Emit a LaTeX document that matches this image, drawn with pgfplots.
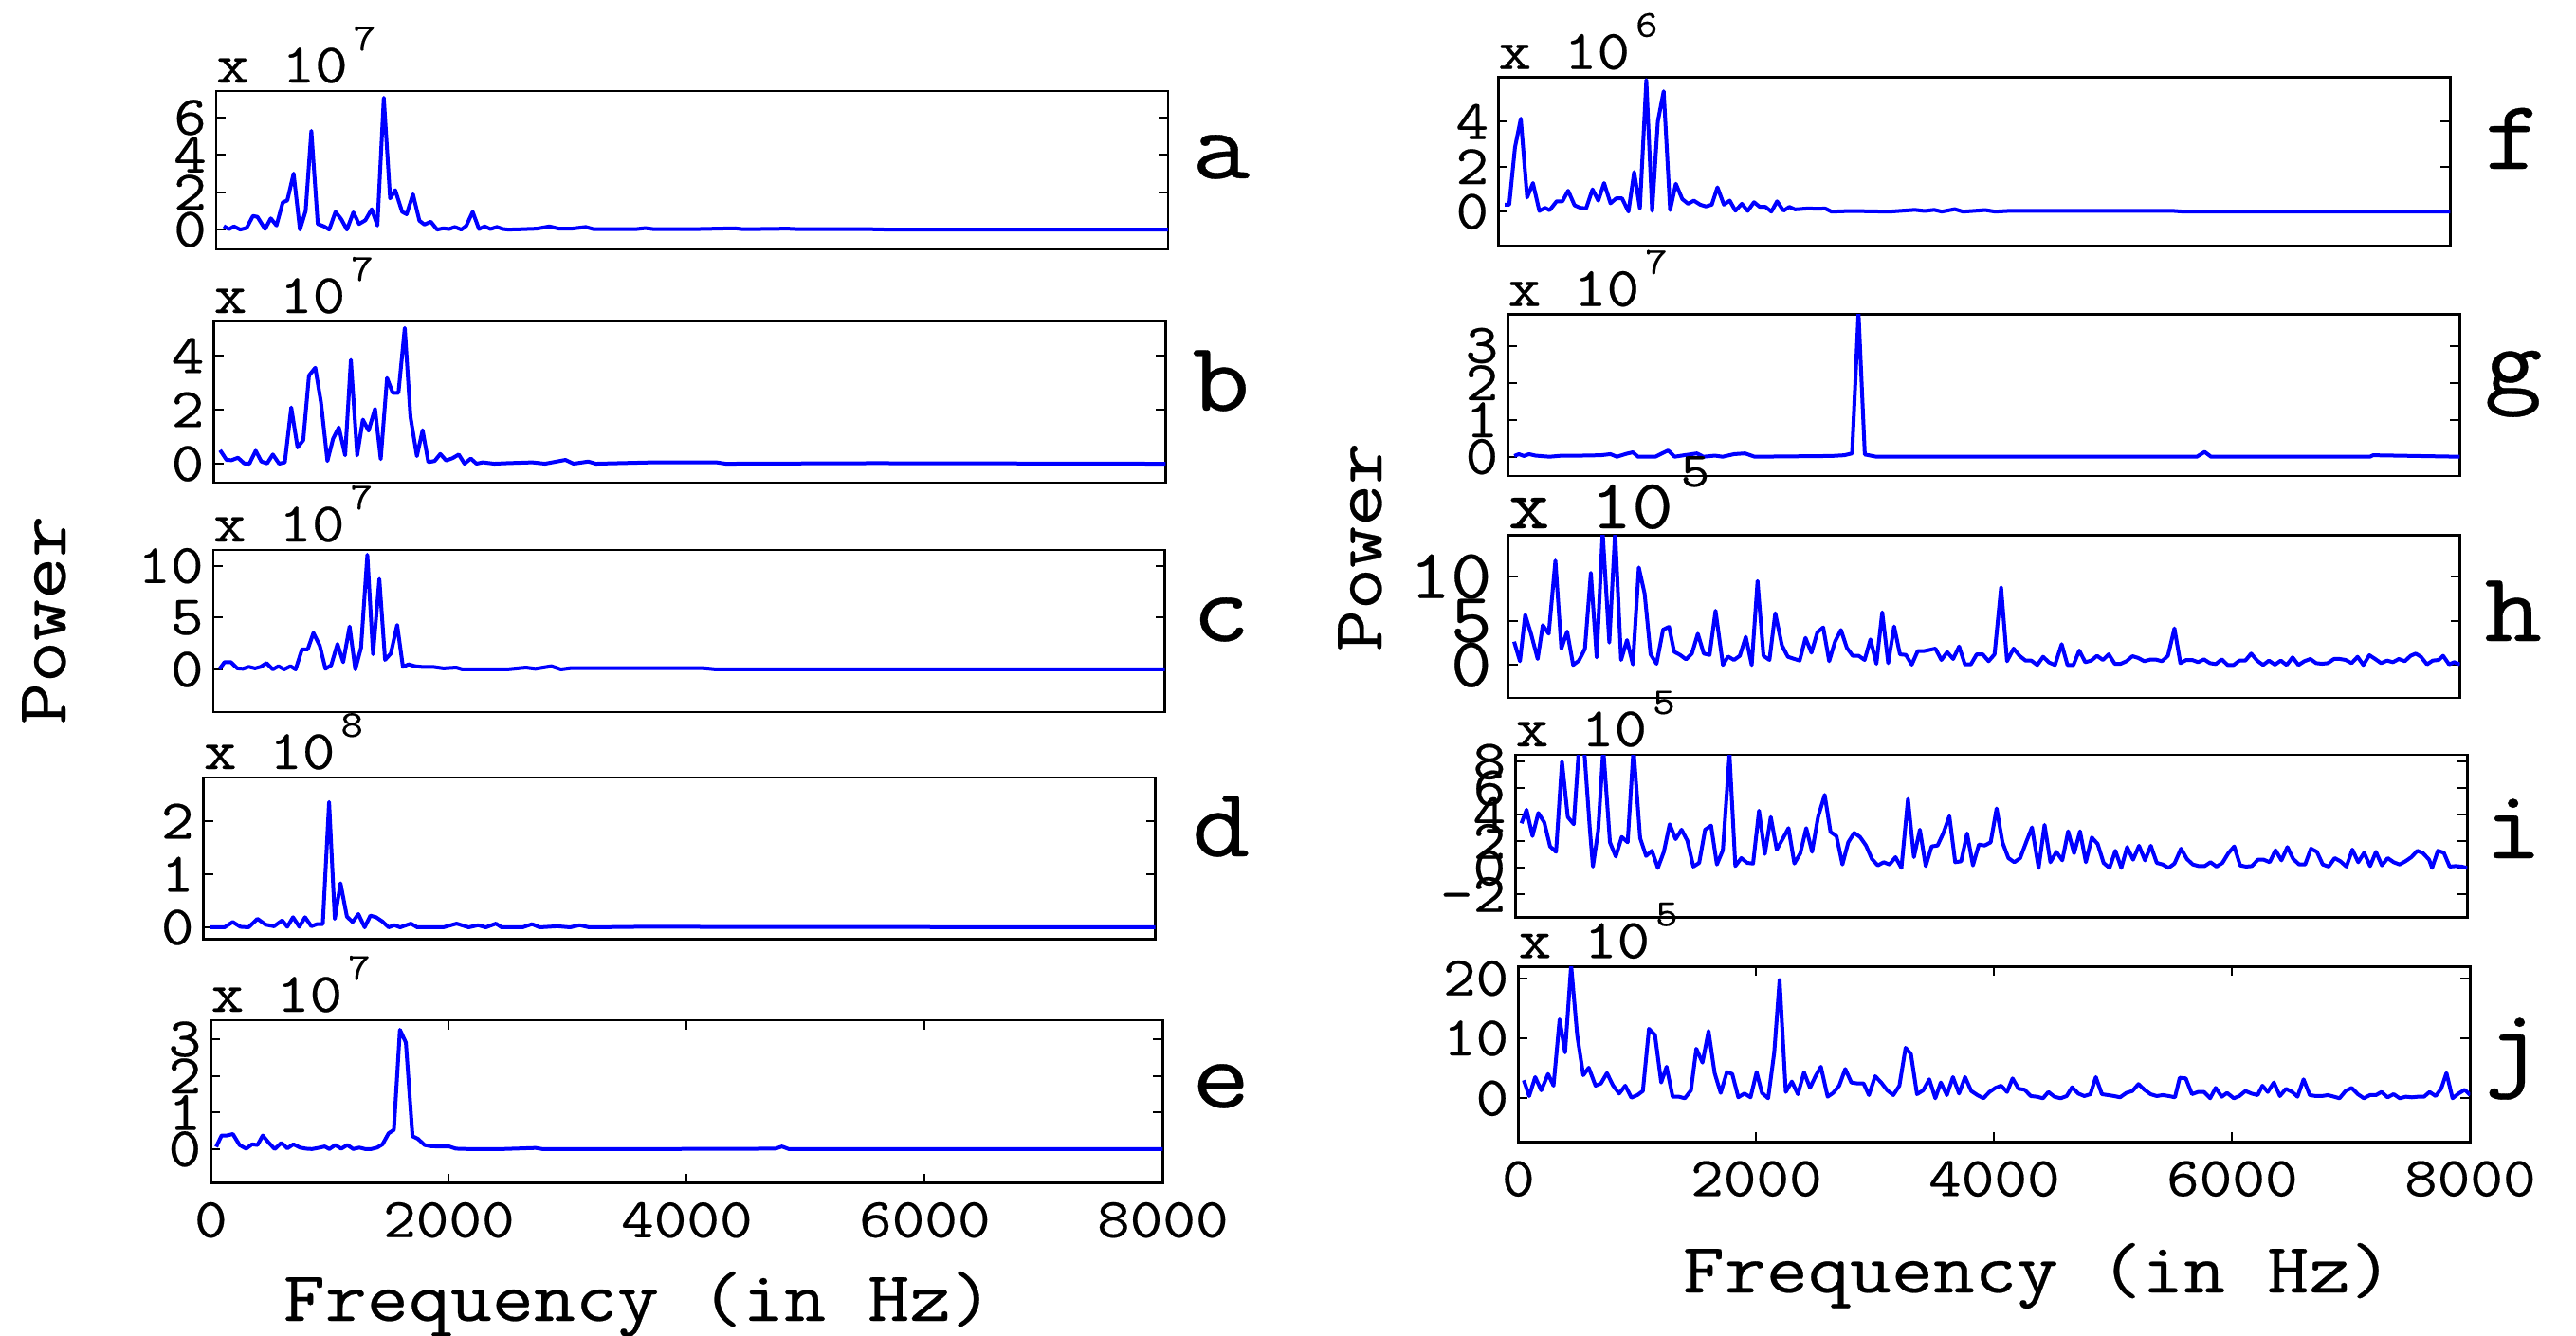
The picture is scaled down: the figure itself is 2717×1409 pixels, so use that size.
\documentclass[border=0pt]{standalone}
\usepackage{fontspec}
% typewriter face, widened to a 0.6em advance and slightly thickened
\setmainfont{Latin Modern Mono}[FakeStretch=1.14, FakeBold=0.35]
\usepackage{pgfplots}
\pgfplotsset{compat=1.18}

% font sizes (1bp = one pixel of the final picture)
\newcommand{\tickfont}{\fontsize{59bp}{59bp}\selectfont}
\newcommand{\bigtickfont}{\fontsize{74bp}{74bp}\selectfont}
\newcommand{\labfont}{\fontsize{75bp}{75bp}\selectfont}
\newcommand{\panfont}{\fontsize{104bp}{104bp}\selectfont}
\newcommand{\xten}[1]{x 10\hspace{6bp}\raisebox{34bp}{\fontsize{40bp}{40bp}\selectfont #1}}
\newcommand{\xtenbig}[1]{x 10\hspace{8bp}\raisebox{44bp}{\fontsize{52bp}{52bp}\selectfont #1}}

\pgfplotsset{
  spec/.style={
    scale only axis, width=1004bp,
    xmin=0, xmax=8000,
    axis line style={line width=2.5bp},
    every tick/.style={black, line width=2bp},
    major tick length=10bp,
    tick align=inside,
    xtick=\empty,
    tick label style={font=\tickfont},
    yticklabel style={inner sep=0pt, xshift=-10bp},
    xticklabel style={inner sep=0pt, yshift=-20bp},
  },
  trace/.style={color=blue, line width=4bp, line join=round, mark=none},
  freqticks/.style={xtick={0,2000,4000,6000,8000}, xticklabels={0,2000,4000,6000,8000}},
}

\begin{document}
\begin{tikzpicture}
\path[use as bounding box] (0bp,0bp) rectangle (2717bp,-1409bp);

% ---------------- left column ----------------
% a
\begin{axis}[spec, at={(228bp,-263bp)}, anchor=south west, height=167bp,
  ymin=-1.06, ymax=7.42, ytick={0,2,4,6}, yticklabels={0,2,4,6}]
\addplot[trace] coordinates {(64,0.19)(107,0.02)(149,0.17)(203,0.0)(256,0.09)(309,0.73)(347,0.68)(411,0.03)(459,0.6)(507,0.22)(560,1.46)(598,1.56)(651,3.0)(704,0.0)(752,1.0)(800,5.29)(854,0.3)(907,0.17)(950,0.0)(1003,0.95)(1051,0.56)(1099,0.0)(1153,0.92)(1201,0.3)(1254,0.5)(1307,1.09)(1355,0.22)(1409,7.06)(1462,1.67)(1505,2.11)(1563,0.95)(1601,0.82)(1654,1.89)(1708,0.48)(1750,0.27)(1804,0.42)(1857,0.0)(1910,0.07)(1958,0.03)(2006,0.14)(2060,0.0)(2102,0.2)(2156,0.95)(2209,0.03)(2257,0.17)(2305,0.03)(2359,0.14)(2412,0.03)(2455,0.0)(2561,0.02)(2695,0.05)(2801,0.17)(2881,0.05)(2988,0.05)(3106,0.14)(3175,0.02)(3522,0.02)(3607,0.08)(3682,0.02)(4055,0.03)(4360,0.07)(4429,0.02)(4802,0.05)(4909,0.02)(5443,0.03)(5656,0.0)(8000,0.0)};
\end{axis}
\node[anchor=base west, inner sep=0pt, font=\tickfont] at (228bp,-87bp) {\xten{7}};

% b
\begin{axis}[spec, at={(225.5bp,-509bp)}, anchor=south west, height=170bp,
  ymin=-0.70, ymax=5.26, ytick={0,2,4}, yticklabels={0,2,4}]
\addplot[trace] coordinates {(53,0.5)(107,0.14)(149,0.13)(203,0.22)(256,0.01)(299,0)(352,0.48)(400,0.08)(448,0.01)(496,0.34)(549,0)(597,0.05)(651,2.08)(704,0.6)(752,0.87)(800,3.26)(853,3.55)(901,2.26)(955,0.1)(1003,0.93)(1051,1.34)(1104,0.31)(1152,3.84)(1205,0.31)(1253,1.63)(1301,1.22)(1355,2.03)(1403,0.17)(1456,3.17)(1504,2.62)(1552,2.62)(1605,5.02)(1653,1.73)(1707,0.28)(1755,1.24)(1803,0.06)(1856,0.1)(1904,0.36)(1952,0.12)(2005,0.2)(2059,0.34)(2107,0)(2160,0.19)(2208,0)(2261,0.05)(2357,0)(2464,0.02)(2677,0.05)(2784,0)(2955,0.14)(3024,0)(3147,0.08)(3211,0)(3690,0.05)(4224,0.05)(4304,0)(5546,0.02)(8000,0)};
\end{axis}
\node[anchor=base west, inner sep=0pt, font=\tickfont] at (225.5bp,-330bp) {\xten{7}};

% c
\begin{axis}[spec, at={(224.8bp,-751bp)}, anchor=south west, height=171bp,
  ymin=-4.12, ymax=11.53, ytick={0,5,10}, yticklabels={0,5,10}]
\addplot[trace] coordinates {(53,0.03)(96,0.7)(149,0.7)(203,0.1)(251,0.06)(299,0.25)(352,0.1)(400,0.25)(448,0.61)(501,0)(549,0.31)(597,0)(651,0.31)(693,0)(747,1.93)(795,1.93)(843,3.53)(896,2.3)(944,0.06)(992,0.4)(1045,2.45)(1093,0.7)(1147,4.14)(1195,0)(1243,2.09)(1296,11.07)(1344,1.47)(1397,8.74)(1445,0.92)(1493,1.53)(1547,4.29)(1595,0.25)(1643,0.49)(1696,0.31)(1749,0.25)(1845,0.25)(1936,0.1)(2043,0.18)(2096,0)(2469,0)(2629,0.18)(2709,0.06)(2843,0.31)(2923,0)(3003,0.12)(3616,0.12)(4122,0.12)(4229,0)(8000,0)};
\end{axis}
\node[anchor=base west, inner sep=0pt, font=\tickfont] at (224.8bp,-571bp) {\xten{7}};

% d
\begin{axis}[spec, at={(214.7bp,-990.7bp)}, anchor=south west, height=170.7bp,
  ymin=-0.227, ymax=2.82, ytick={0,1,2}, yticklabels={0,1,2}]
\addplot[trace] coordinates {(59,0)(176,0)(245,0.1)(309,0.01)(378,0)(453,0.16)(522,0.05)(592,0.02)(661,0.13)(704,0.01)(752,0.19)(805,0.01)(853,0.19)(906,0.02)(954,0.06)(1002,0.06)(1055,2.36)(1103,0.16)(1151,0.83)(1205,0.2)(1253,0.1)(1301,0.25)(1354,0)(1402,0.22)(1450,0.19)(1503,0.11)(1556,0)(1604,0.04)(1652,0)(1743,0.07)(1796,0)(2015,0)(2127,0.07)(2228,0)(2308,0.04)(2372,0)(2457,0.07)(2505,0)(2681,0)(2761,0.06)(2825,0)(2974,0.02)(3081,0)(3161,0.04)(3241,0)(3667,0.01)(8000,0)};
\end{axis}
\node[anchor=base west, inner sep=0pt, font=\tickfont] at (214.7bp,-811bp) {\xten{8}};

% e
\begin{axis}[spec, freqticks, at={(222.4bp,-1247.7bp)}, anchor=south west, height=171.7bp,
  ymin=-0.93, ymax=3.52, ytick={0,1,2,3}, yticklabels={0,1,2,3}]
\addplot[trace] coordinates {(45,0.06)(90,0.37)(134,0.37)(185,0.41)(241,0.11)(296,0.01)(347,0.13)(392,0.11)(436,0.37)(487,0.17)(537,0)(593,0.17)(643,0.02)(694,0.13)(750,0.04)(800,0.01)(850,0)(901,0.03)(957,0.07)(996,0)(1046,0.11)(1096,0.01)(1147,0.11)(1197,0)(1247,0.04)(1298,0)(1348,0)(1398,0.04)(1443,0.13)(1494,0.43)(1538,0.52)(1589,3.26)(1639,2.91)(1695,0.35)(1740,0.28)(1796,0.11)(1846,0.08)(1902,0.07)(1952,0.07)(2003,0.07)(2059,0.01)(2170,0)(2450,0)(2730,0.03)(2786,0)(3737,0)(4744,0.01)(4800,0.07)(4856,0)(8000,0)};
\end{axis}
\node[anchor=base west, inner sep=0pt, font=\tickfont] at (222.4bp,-1067bp) {\xten{7}};

% ---------------- right column ----------------
% f
\begin{axis}[spec, at={(1580.3bp,-259.3bp)}, anchor=south west, height=177.6bp,
  ymin=-1.52, ymax=5.96, ytick={0,2,4}, yticklabels={0,2,4}]
\addplot[trace] coordinates {(54,0.31)(92,0.31)(140,2.85)(189,4.13)(242,0.63)(291,1.27)(345,0.03)(393,0.17)(431,0.06)(490,0.46)(539,0.46)(587,0.93)(641,0.28)(690,0.17)(738,0.14)(792,0.99)(840,0.49)(889,1.27)(943,0.37)(991,0.59)(1040,0.59)(1094,0)(1142,1.76)(1190,0.14)(1244,5.85)(1293,0.03)(1341,4.01)(1390,5.35)(1444,0.07)(1492,1.24)(1546,0.56)(1595,0.35)(1643,0.49)(1697,0.31)(1745,0.23)(1794,0.31)(1842,1.08)(1896,0.31)(1945,0.49)(1993,0.04)(2047,0.35)(2096,0.03)(2149,0.42)(2198,0.21)(2246,0.21)(2295,0)(2343,0.46)(2397,0.04)(2446,0.21)(2494,0.1)(2597,0.14)(2693,0.13)(2747,0.14)(2801,0)(2963,0.03)(3286,0)(3501,0.08)(3582,0.03)(3663,0.08)(3728,0)(3836,0.11)(3906,0)(4094,0.07)(4175,0)(4310,0.04)(5656,0.04)(5764,0)(8000,0)};
\end{axis}
\node[anchor=base west, inner sep=0pt, font=\tickfont] at (1580.3bp,-72.7bp) {\xten{6}};

% g
\begin{axis}[spec, at={(1590.4bp,-502bp)}, anchor=south west, height=170.3bp,
  ymin=-0.52, ymax=3.84, ytick={0,1,2,3}, yticklabels={0,1,2,3}]
\addplot[trace] coordinates {(54,0.02)(92,0.07)(135,0.02)(178,0.07)(232,0.03)(350,0)(458,0.03)(620,0.03)(781,0.04)(862,0.07)(916,0)(997,0.08)(1050,0.12)(1094,0)(1239,0)(1347,0.17)(1401,0)(1481,0.04)(1589,0.09)(1643,0)(1740,0.03)(1805,0)(1902,0.07)(1993,0.09)(2074,0)(2720,0.02)(2828,0.04)(2893,0.09)(2947,3.9)(3000,0.06)(3097,0)(4067,0)(5791,0)(5856,0.13)(5910,0)(7245,0)(7272,0.04)(8000,0)};
\end{axis}
\node[anchor=base west, inner sep=0pt, font=\tickfont] at (1590.4bp,-322.7bp) {\xten{7}};

% h
\begin{axis}[spec, at={(1590.7bp,-736bp)}, anchor=south west, height=171.7bp,
  tick label style={font=\bigtickfont}, yticklabel style={xshift=-7bp},
  ymin=-3.72, ymax=14.7, ytick={0,5,10}, yticklabels={0,5,10}]
\addplot[trace] coordinates {(50,2.64)(99,0.43)(143,5.68)(192,3.54)(248,0.68)(291,4.5)(341,3.54)(397,11.82)(447,1.86)(496,3.79)(546,0)(595,0.5)(645,1.82)(695,10.43)(744,0.86)(794,15.1)(850,2.54)(899,15.1)(949,0.57)(999,2.82)(1048,0.07)(1098,11.04)(1147,8.07)(1197,1.21)(1247,0.14)(1302,4.0)(1352,4.32)(1395,1.5)(1445,1.14)(1495,0.64)(1544,1.29)(1594,3.54)(1644,1.29)(1693,1.14)(1743,6.14)(1805,0)(1848,0.96)(1898,0.57)(1947,1.04)(1997,3.18)(2047,0)(2096,9.5)(2146,1.04)(2196,0.57)(2245,5.86)(2301,2.21)(2351,0.93)(2400,0.71)(2450,0.5)(2499,3.07)(2549,1.39)(2599,3.71)(2648,4.25)(2698,0.43)(2747,2.64)(2797,3.96)(2847,1.93)(2896,1.04)(2946,1.04)(2996,0.57)(3045,2.89)(3095,0.14)(3144,5.96)(3194,0.21)(3244,4.36)(3293,1.21)(3343,1.14)(3392,0.04)(3442,1.57)(3492,1.57)(3541,1.71)(3591,1.86)(3641,0.57)(3690,1.46)(3740,0.68)(3790,2.1)(3839,0.07)(3889,0.07)(3938,1.21)(3988,1.21)(4038,0.43)(4088,1.21)(4143,8.79)(4193,0.43)(4248,1.86)(4298,1.04)(4348,0.5)(4397,0.5)(4447,0)(4496,0.93)(4546,0.29)(4596,0)(4652,2.36)(4701,0)(4751,0)(4800,1.64)(4850,0.32)(4900,0.5)(4949,1.04)(4999,0.57)(5048,1.21)(5098,0.14)(5148,0.14)(5197,0.43)(5247,1.0)(5297,0.79)(5346,0.43)(5396,0.61)(5445,0.61)(5495,0.43)(5545,1.04)(5600,4.14)(5650,0.21)(5699,0.57)(5749,0.57)(5799,0.32)(5848,0.64)(5898,0.21)(5948,0.11)(5997,0.64)(6047,0)(6097,0)(6146,0.5)(6196,0.5)(6245,1.29)(6295,0.5)(6345,0)(6394,0.5)(6444,0.04)(6494,0.5)(6543,0)(6593,0.86)(6642,0)(6692,0.43)(6742,0.68)(6791,0.21)(6841,0.14)(6890,0.21)(6940,0.68)(6990,0.68)(7039,0.57)(7089,0.21)(7139,0.93)(7188,0)(7238,1.11)(7287,0.68)(7337,0.21)(7387,0.5)(7436,0.32)(7486,0.68)(7536,0.43)(7585,1.04)(7628,1.29)(7672,0.93)(7722,0.07)(7771,0.5)(7821,0.57)(7858,1.04)(7908,0.07)(7951,0.32)(8000,0.07)};
\end{axis}
\node[anchor=base west, inner sep=0pt, font=\bigtickfont] at (1590.7bp,-557bp) {\xtenbig{5}};

% i
\begin{axis}[spec, at={(1598.4bp,-967.3bp)}, anchor=south west, height=171.3bp,
  ymin=-3.71, ymax=8.52, ytick={-2,0,2,4,6,8}, yticklabels={-2,0,2,4,6,8}]
\addplot[trace] coordinates {(50,3.36)(93,4.38)(143,2.4)(192,4.14)(242,3.43)(291,1.62)(341,1.21)(391,8.0)(440,3.83)(490,3.29)(533,9.0)(577,9.0)(626,2.81)(651,0.1)(695,2.81)(738,9.0)(794,1.93)(843,0.86)(893,2.33)(943,1.93)(992,9.0)(1048,2.24)(1098,0.9)(1147,1.29)(1197,0)(1247,1.21)(1296,3.29)(1346,2.17)(1396,2.88)(1445,2.05)(1495,0.1)(1544,0.38)(1594,2.88)(1644,3.19)(1693,0.26)(1743,1.33)(1799,8.6)(1848,0.14)(1898,0.74)(1948,0.38)(1997,0.33)(2047,4.31)(2096,1.05)(2146,3.83)(2196,1.38)(2245,2.17)(2295,3.0)(2344,0.33)(2394,1.1)(2444,3.0)(2493,1.21)(2543,3.83)(2599,5.5)(2648,2.71)(2698,2.4)(2748,0.26)(2797,1.93)(2847,2.64)(2896,2.33)(2946,1.69)(2996,0.67)(3045,0.19)(3095,0.43)(3144,0.26)(3194,0.81)(3244,0)(3299,5.19)(3349,0.81)(3399,2.88)(3448,0.14)(3498,1.62)(3548,1.69)(3597,2.64)(3647,3.9)(3696,0.43)(3746,0.5)(3796,2.6)(3845,0.19)(3895,1.76)(3944,1.69)(3994,1.93)(4044,4.48)(4093,1.93)(4143,0.74)(4193,0.43)(4242,0.74)(4292,1.93)(4341,3.05)(4397,0)(4447,3.24)(4496,0.43)(4546,1.21)(4596,0.57)(4645,2.76)(4695,1.1)(4745,2.76)(4794,0.43)(4844,2.29)(4893,1.81)(4943,0.38)(4993,0)(5042,1.29)(5092,0)(5141,1.57)(5191,0.62)(5241,1.67)(5291,0.57)(5340,1.67)(5390,0.38)(5440,0.26)(5489,0)(5539,0.33)(5594,1.45)(5644,0.67)(5693,0.26)(5743,0.14)(5793,0.14)(5842,0.43)(5892,0.1)(5942,0.38)(5991,1.1)(6041,1.62)(6091,0.19)(6140,0.1)(6190,0.14)(6240,0.62)(6289,0.62)(6339,0.43)(6388,1.33)(6438,0.57)(6488,1.57)(6537,0.67)(6587,0.26)(6637,0.26)(6686,1.45)(6736,1.21)(6785,0.26)(6835,0.1)(6885,0.74)(6934,0.5)(6984,0.1)(7034,1.38)(7083,0.43)(7133,1.14)(7183,0.14)(7232,1.21)(7282,0.19)(7331,0.74)(7381,0.43)(7431,0.26)(7480,0.5)(7530,0.81)(7580,1.29)(7629,1.1)(7679,0.62)(7704,0)(7753,1.29)(7803,1.14)(7852,0.1)(7902,0.14)(7952,0.1)(8000,0)};
\end{axis}
\node[anchor=base west, inner sep=0pt, font=\tickfont] at (1598.4bp,-787bp) {\xten{5}};

% j
\begin{axis}[spec, freqticks, at={(1601.4bp,-1204.3bp)}, anchor=south west, height=185bp,
  ymin=-7.27, ymax=21.96, ytick={0,10,20}, yticklabels={0,10,20}]
\addplot[trace] coordinates {(46,3.0)(91,0.37)(142,3.53)(193,1.32)(250,4.05)(296,2.1)(347,13.16)(393,7.63)(444,22.2)(495,10.5)(546,3.84)(592,5.1)(649,2.1)(694,2.47)(745,4.2)(797,2.1)(848,0.79)(899,2.1)(950,0.1)(1001,0.53)(1047,1.21)(1098,11.58)(1149,10.53)(1201,2.63)(1246,5.26)(1297,0.26)(1349,0.26)(1400,0)(1451,1.32)(1496,8.26)(1548,5.95)(1599,11.21)(1650,4.21)(1701,0.89)(1753,4.37)(1798,4.05)(1849,0.16)(1900,0.79)(1952,0.16)(2003,4.37)(2048,0.89)(2100,0)(2151,7.63)(2196,19.74)(2248,1.05)(2299,2.79)(2350,0.68)(2401,4.32)(2452,1.74)(2498,3.68)(2543,5.26)(2600,0.26)(2646,0.89)(2697,2.1)(2748,4.89)(2799,2.63)(2851,2.47)(2902,2.47)(2947,0.53)(2999,3.68)(3050,2.63)(3101,1.32)(3152,0.53)(3203,2.1)(3255,8.42)(3300,7.37)(3351,0.68)(3403,1.32)(3454,3.16)(3505,0)(3551,2.63)(3602,0.53)(3653,3.53)(3704,0.79)(3755,3.53)(3807,1.21)(3858,0.53)(3909,0)(3960,1.05)(4011,1.74)(4057,2.1)(4108,1.05)(4154,3.32)(4205,1.58)(4256,1.42)(4307,0.37)(4359,0.26)(4410,0)(4455,1.05)(4506,0.26)(4558,0)(4609,0.37)(4654,1.84)(4706,0.79)(4757,0.37)(4808,0.68)(4854,3.53)(4905,0.68)(4956,0.53)(5007,0.37)(5058,0.16)(5110,0.89)(5161,1.21)(5212,2.37)(5263,1.42)(5314,0.68)(5366,0.37)(5417,0.53)(5468,0.37)(5519,0.16)(5559,3.42)(5610,3.32)(5662,0.68)(5713,1.05)(5764,1.05)(5815,0)(5861,1.74)(5912,0.26)(5957,0.89)(6014,0)(6060,0.37)(6111,1.21)(6162,0.79)(6214,0.53)(6254,2.1)(6299,1.05)(6350,2.63)(6401,0.37)(6452,1.58)(6504,1.05)(6549,0.26)(6600,3.16)(6652,0.53)(6703,0.37)(6754,0.37)(6805,0.53)(6856,0.26)(6902,0)(6953,1.21)(7004,1.74)(7056,0.68)(7107,0)(7158,0.53)(7209,0.53)(7255,1.05)(7306,0.16)(7357,0.68)(7408,0)(7460,0.26)(7511,0.16)(7562,0.26)(7613,0.26)(7659,1.05)(7710,0.37)(7756,1.58)(7801,4.21)(7852,0)(7903,0.79)(7955,1.42)(8000,0.53)};
\end{axis}
\node[anchor=base west, inner sep=0pt, font=\tickfont] at (1601.4bp,-1010.3bp) {\xten{5}};

% ---------------- shared labels ----------------
\node[rotate=90, anchor=base, inner sep=0pt, font=\labfont] at (69bp,-654bp) {Power};
\node[rotate=90, anchor=base, inner sep=0pt, font=\labfont] at (1457bp,-577bp) {Power};
\node[anchor=base, inner sep=0pt, font=\labfont] at (673bp,-1393bp) {Frequency (in Hz)};
\node[anchor=base, inner sep=0pt, font=\labfont] at (2149bp,-1363bp) {Frequency (in Hz)};

% panel letters
\foreach \lab/\px/\py in {a/1257/188, b/1257/433, c/1257/676, d/1257/903, e/1257/1168,
                          f/2620/178, g/2620/416, h/2620/676, i/2620/905, j/2620/1136}
  \node[anchor=base west, inner sep=0pt, font=\panfont] at (\px bp,-\py bp) {\lab};
\end{tikzpicture}
\end{document}
